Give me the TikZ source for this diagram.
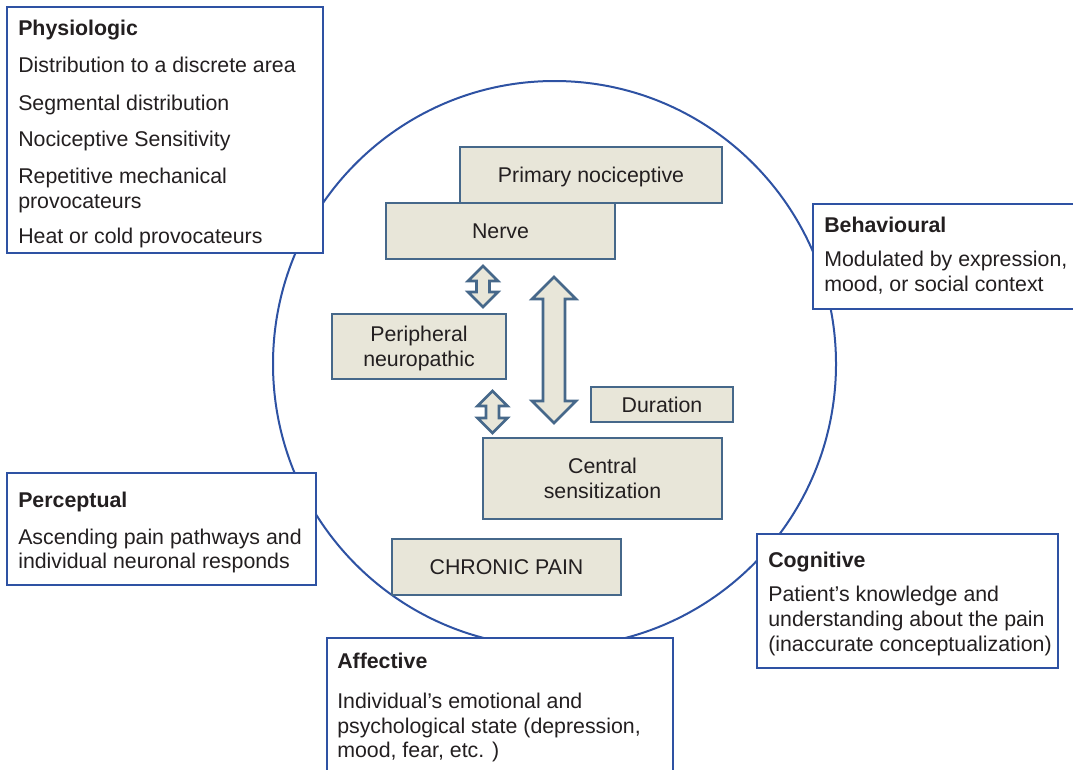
\documentclass[tikz,border=0pt]{standalone}
\usepackage{fontspec}
\setmainfont{Liberation Sans}
\definecolor{ringblue}{HTML}{2E52A3}
\definecolor{boxedge}{HTML}{46688A}
\definecolor{boxfill}{HTML}{E8E6D9}
\definecolor{ink}{HTML}{231F20}
\begin{document}
\begin{tikzpicture}[x=0.75pt,y=-0.75pt,
  ring/.style={draw=ringblue, line width=1.5pt},
  panel/.style={draw=ringblue, line width=1.6pt, fill=white, inner sep=0pt},
  txt/.style={anchor=base west, inner sep=0pt, text=ink, font=\fontsize{16}{18.75}\selectfont},
  head/.style={txt, font=\fontsize{16}{18.75}\selectfont\bfseries},
  inbox/.style={draw=boxedge, fill=boxfill, line width=2pt, inner sep=0pt, text=ink,
    align=center, font=\fontsize{16}{18.75}\selectfont},
  pics/dblarrow/.style n args={4}{code={
    % #1 total length, #2 head width, #3 shaft width, #4 head length
    \draw[draw=boxedge, fill=boxfill, line width=2pt, line join=miter]
      (0,{-#1/2}) -- ({#2/2},{-#1/2+#4}) -- ({#3/2},{-#1/2+#4}) -- ({#3/2},{#1/2-#4})
      -- ({#2/2},{#1/2-#4}) -- (0,{#1/2}) -- ({-#2/2},{#1/2-#4}) -- ({-#3/2},{#1/2-#4})
      -- ({-#3/2},{-#1/2+#4}) -- ({-#2/2},{-#1/2+#4}) -- cycle;
  }}]
\useasboundingbox (0,0) rectangle (1073,769);
\clip (0,0) rectangle (1073,769);

% the ring behind everything
\draw[ring] (554.5,364) ellipse [x radius=281.5, y radius=283];

% outer panels
\node[panel, minimum width=316*0.75pt, minimum height=246*0.75pt] (physbox) at (165,130) {};
\node[panel, minimum width=272*0.75pt, minimum height=105*0.75pt] (behbox) at (949,256.5) {};
\node[panel, minimum width=309*0.75pt, minimum height=112*0.75pt] (percbox) at (161.5,529) {};
\node[panel, minimum width=301*0.75pt, minimum height=134*0.75pt] (cogbox) at (907.5,601) {};
\node[panel, minimum width=346*0.75pt, minimum height=152*0.75pt] (affbox) at (500,714) {};

% Physiologic
\node[head] (phys) at (18,35) {Physiologic};
\node[txt] (phys1) at (18,72) {Distribution to a discrete area};
\node[txt] (phys2) at (18,110) {Segmental distribution};
\node[txt] (phys3) at (18,146) {Nociceptive Sensitivity};
\node[txt] (phys4) at (18,183) {Repetitive mechanical};
\node[txt] (phys5) at (18,208) {provocateurs};
\node[txt] (phys6) at (18,243) {Heat or cold provocateurs};

% Behavioural
\node[head] (beh) at (824,232) {Behavioural};
\node[txt] (beh1) at (824,266) {Modulated by expression,};
\node[txt] (beh2) at (824,291) {mood, or social context};

% Perceptual
\node[head] (perc) at (18,507) {Perceptual};
\node[txt] (perc1) at (18,544) {Ascending pain pathways and};
\node[txt] (perc2) at (18,568) {individual neuronal responds};

% Cognitive
\node[head] (cog) at (768,567) {Cognitive};
\node[txt] (cog1) at (768,601) {Patient’s knowledge and};
\node[txt] (cog2) at (768,626) {understanding about the pain};
\node[txt] (cog3) at (768,651) {(inaccurate conceptualization)};

% Affective
\node[head] (aff) at (337,668) {Affective};
\node[txt] (aff1) at (337,708) {Individual’s emotional and};
\node[txt] (aff2) at (337,733) {psychological state (depression,};
\node[txt] (aff3) at (337,757) {mood, fear, etc. )};

% inner boxes
\node[inbox, minimum width=262*0.75pt, minimum height=56*0.75pt, text depth=0pt] (primary) at (591,175) {Primary nociceptive};
\node[inbox, minimum width=229*0.75pt, minimum height=56*0.75pt, text depth=0pt] (nerve) at (500.5,231) {Nerve};
\node[inbox, minimum width=174*0.75pt, minimum height=65*0.75pt] (periph) at (419,346.5) {Peripheral\\neuro\smash{p}athic};
\node[inbox, minimum width=142*0.75pt, minimum height=35*0.75pt, text depth=0pt] (duration) at (662,404.5) {Duration};
\node[inbox, minimum width=239*0.75pt, minimum height=81*0.75pt] (central) at (602.5,478.5) {Central\\sensitization};
\node[inbox, minimum width=229*0.75pt, minimum height=56*0.75pt, text depth=0pt] (chronic) at (506.5,567) {CHRONIC PAIN};

% two-way block arrows
\path (483,286.5) pic {dblarrow={41}{30}{13}{15}};
\path (492.5,412) pic {dblarrow={42}{30}{13}{15}};
\path (554,350) pic {dblarrow={146}{44}{22}{22}};
\end{tikzpicture}
\end{document}
